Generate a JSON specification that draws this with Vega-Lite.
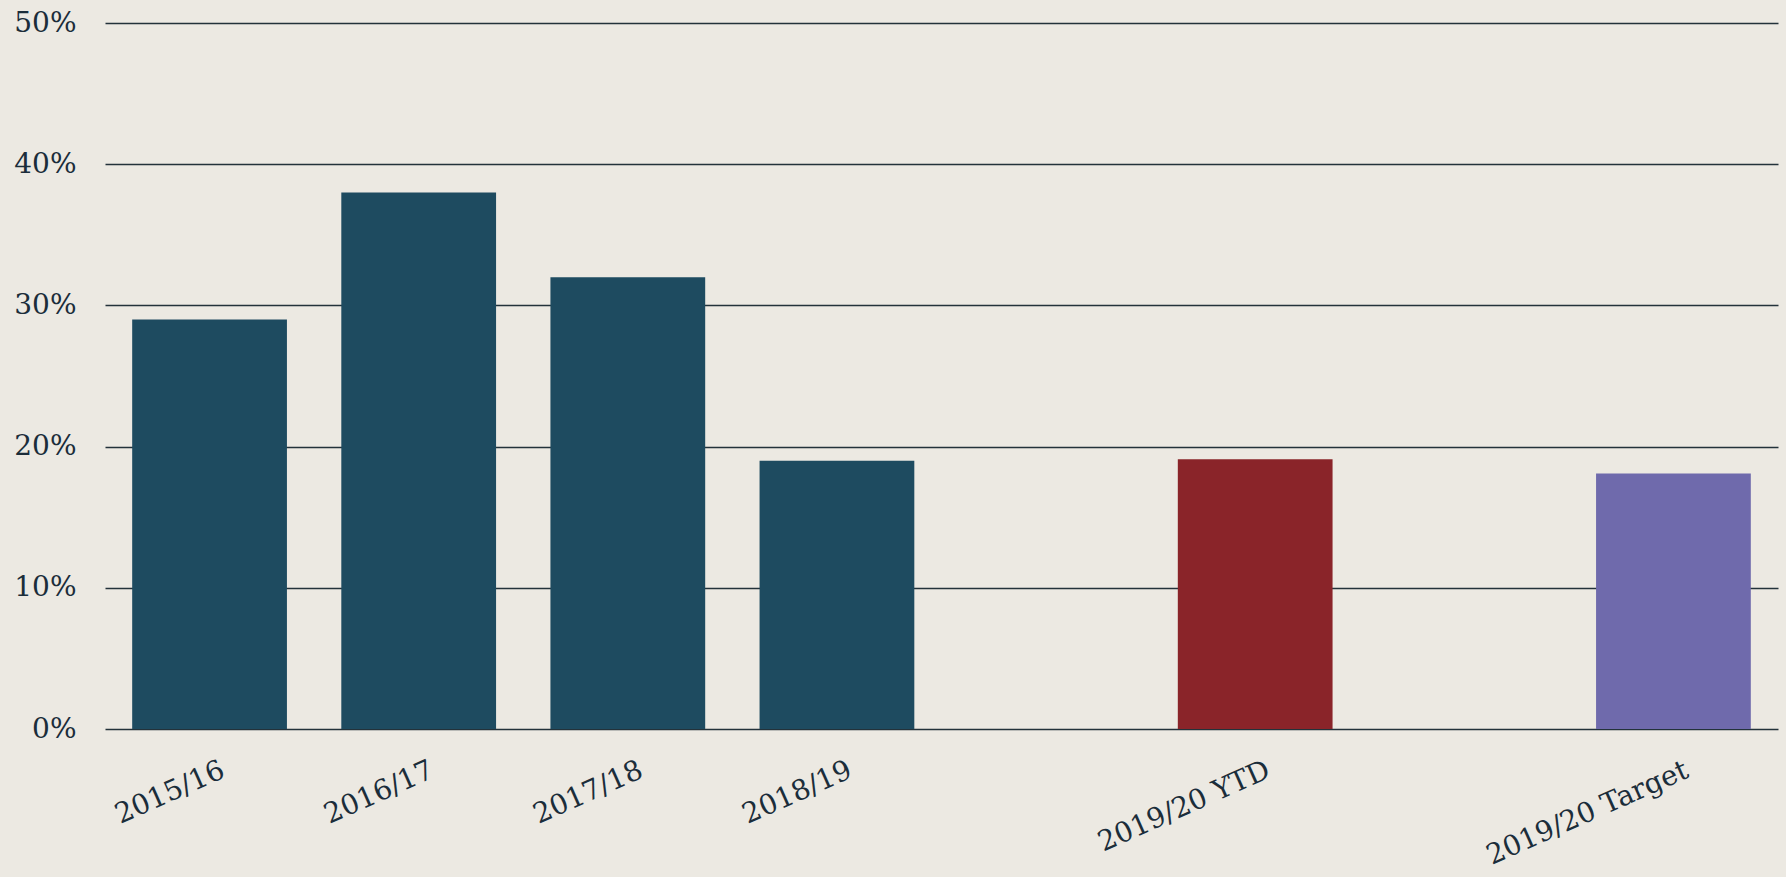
{
  "$schema": "https://vega.github.io/schema/vega-lite/v6.json",
  "autosize": {"type": "none"},
  "width": 1673,
  "height": 706,
  "padding": {"left": 105, "top": 23, "right": 8, "bottom": 148},
  "background": "#ece9e2",
  "config": {
    "view": {"stroke": null},
    "font": "DejaVu Serif"
  },
  "data": {
    "values": [
      {"period": "2015/16", "rate": 0.29, "type": "Actual"},
      {"period": "2016/17", "rate": 0.38, "type": "Actual"},
      {"period": "2017/18", "rate": 0.32, "type": "Actual"},
      {"period": "2018/19", "rate": 0.19, "type": "Actual"},
      {"period": "2019/20 YTD", "rate": 0.191, "type": "YTD"},
      {"period": "2019/20 Target", "rate": 0.181, "type": "Target"}
    ]
  },
  "mark": {"type": "bar"},
  "encoding": {
    "x": {
      "field": "period",
      "type": "nominal",
      "sort": null,
      "scale": {
        "domain": ["2015/16", "2016/17", "2017/18", "2018/19", "gap1", "2019/20 YTD", "gap2", "2019/20 Target"],
        "paddingInner": 0.26,
        "paddingOuter": 0.13
      },
      "axis": {
        "title": null,
        "domain": false,
        "ticks": false,
        "labelExpr": "indexof(datum.value, 'gap') == 0 ? '' : datum.value",
        "labelAngle": -24,
        "labelAlign": "right",
        "labelBaseline": "top",
        "labelOffset": 8,
        "labelPadding": 27,
        "labelLimit": 0,
        "labelFont": "DejaVu Serif",
        "labelFontSize": 28,
        "labelColor": "#1b2d3a",
        "labelOverlap": false
      }
    },
    "y": {
      "field": "rate",
      "type": "quantitative",
      "scale": {"domain": [0, 0.5], "nice": false},
      "axis": {
        "title": null,
        "domain": false,
        "ticks": false,
        "values": [0, 0.1, 0.2, 0.3, 0.4, 0.5],
        "format": ".0%",
        "grid": true,
        "gridColor": "#23323a",
        "gridWidth": 1.6,
        "labelPadding": 29,
        "labelFont": "DejaVu Serif",
        "labelFontSize": 28,
        "labelColor": "#1b2d3a"
      }
    },
    "color": {
      "field": "type",
      "type": "nominal",
      "scale": {"domain": ["Actual", "YTD", "Target"], "range": ["#1e4b60", "#8a2429", "#6f6aac"]},
      "legend": null
    }
  }
}
